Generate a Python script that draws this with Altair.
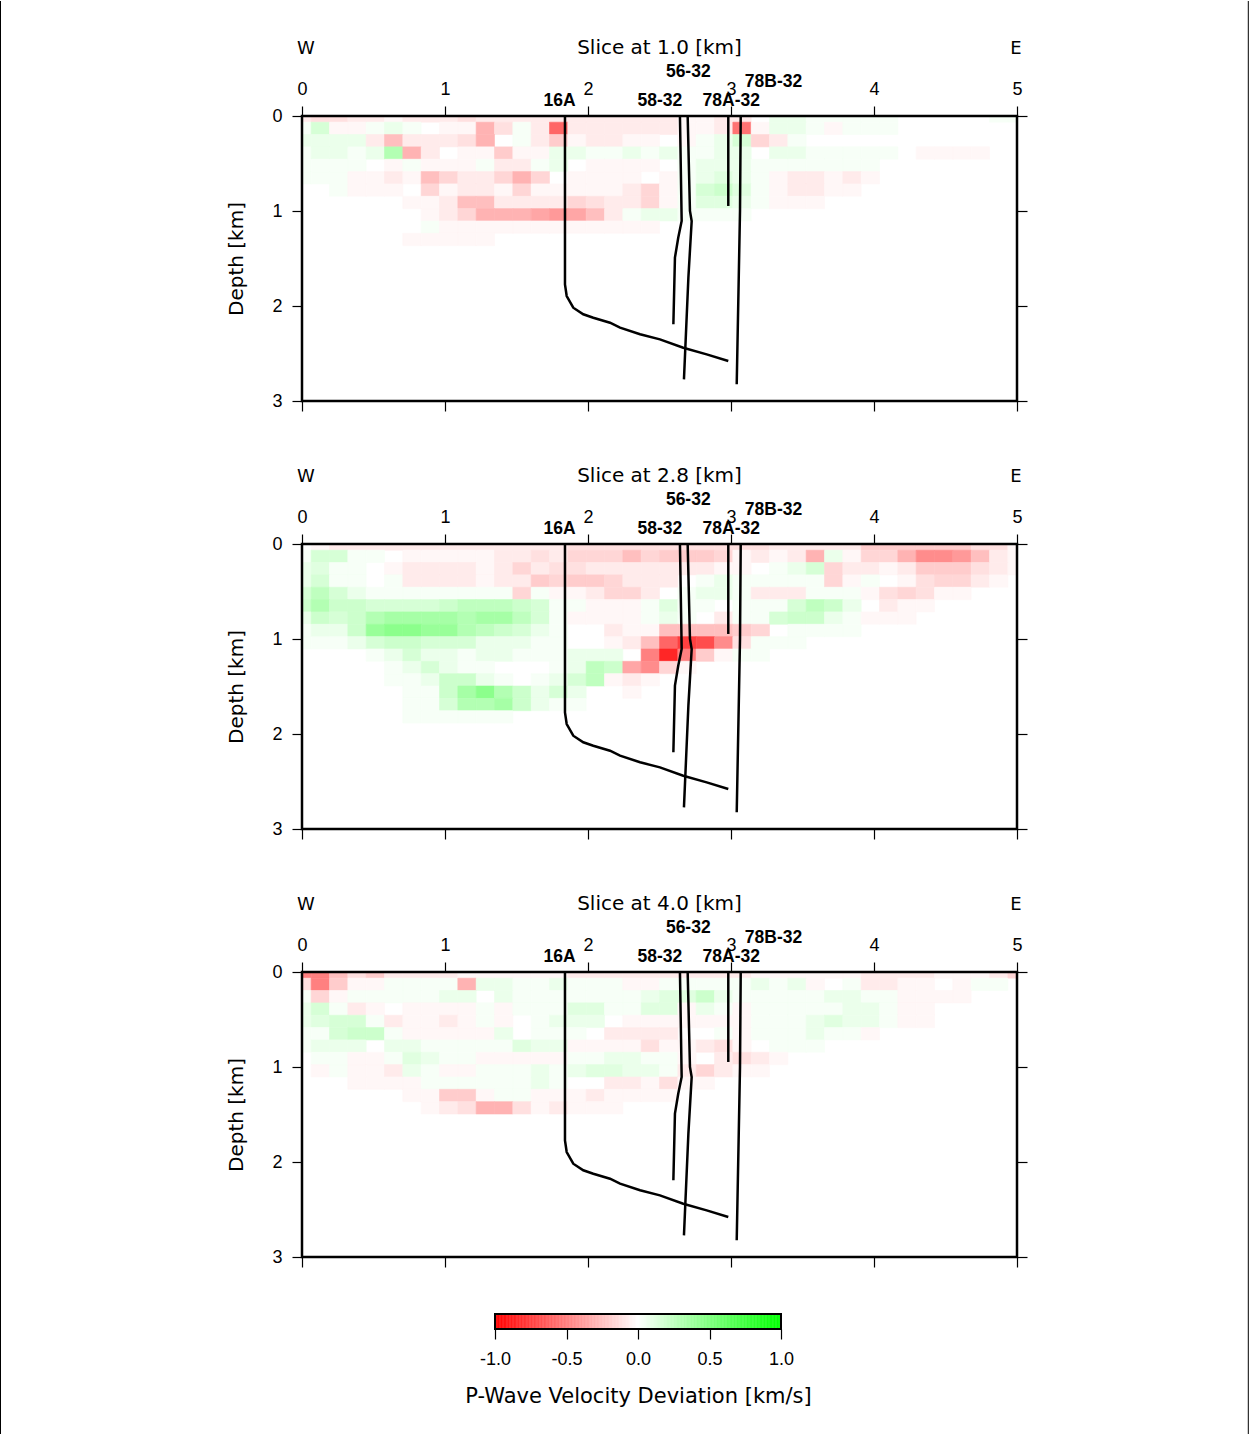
import altair as alt
import numpy as np
import pandas as pd

# ---------------------------------------------------------------------------
# P-wave velocity deviation on the tomography grid, one string per depth node,
# one character per distance node (40 nodes over 0-5 km, 0.13 km depth step).
# '.' = 0, lower case = slower (negative), upper case = faster (positive);
# the letter gives the magnitude from LEVELS.
# ---------------------------------------------------------------------------
LEVELS = [0.03, 0.08, 0.12, 0.16, 0.20, 0.25, 0.30, 0.35,
          0.40, 0.45, 0.50, 0.55, 0.60, 0.70, 0.75, 0.85]

SLICE_1_0 = [
    "bccbbabbbc" "bbbbbbbbbb" "baabb.BBAA" "AAA.....AA",
    "ADaaABA.aa" "gcAbmbbbbb" "baablaBBAa" "AAA.......",
    "BBBBbfbbbc" "g.Abeabbaa" ".aABDdbA.." "..........",
    "ABBABGgb.a" "aeaaBBAABA" "BAABB.BBAA" "AAA.aaaa..",
    "AAAA.aAaaa" "AbbAB.aaaa" ".ABBBAAAAA" "AA........",
    "AAAaabafdb" "bdgd.aaaa." "aABCBAabba" "ba........",
    "..Aaaa.dab" "badaaaaabd" "aADECAabba" "a.........",
    "......aabf" "fbbbbdcbbd" "aACCBAaaa." "..........",
    ".......abd" "ggghihfbAB" "BAAAA....." "..........",
    ".......Aaa" "aaaaaaaaaa" ".........." "..........",
    "......aaaa" "a........." ".........." "..........",
]

SLICE_2_8 = [
    ".abbbbbbbb" "bbbbbccccc" "ccccccbbbb" "beeeeeecca",
    "ADDAA.aaaa" "abbcbdddfd" "eeedababgB" "addgjjifba",
    "BCAA.abbbb" "abdbccbbbb" "bbbaa.ABDd" "bbabeeecba",
    "BDAA.Abbbb" "abbedeedbb" "b.ABAAAAAd" "aA.acddba.",
    "DFDBAAAAAA" "AAdAaabddb" ".ABBAbbbAA" "Aacdcaa...",
    "EGEEDDDDEF" "FFEDAAaaaA" "CAA.AAADFE" "B.baa.....",
    "BEDEGHHHHG" "HHFDAaaaaA" "BA.bAADEEB" "Aaaa......",
    "ABBEIJJIIG" "FEDBA..baa" "ffffed.AAA" "A.........",
    "AAABDEEDDD" "BBBAA..abf" "monjcAAA.." "..........",
    "....ABDBBA" "BBAAABBB.k" "pkeaAA...." "..........",
    ".....ABDBA" "A...ABFEhj" "da........" "..........",
    ".....AABEE" "BA.ABDFaba" ".........." "..........",
    "......AAEH" "JGEBDB..a." ".........." "..........",
    "......AADG" "GHEBAA...." ".........." "..........",
    "......AAAA" "AA........" ".........." "..........",
]

SLICE_4_0 = [
    "kkfcebbbba" "aaaaabbbbb" "bbbbbaaaaa" "abbbbaaabd",
    "ckeaaAAAAg" "BBAABAAAaa" "AAAAABABa." "Abbaa.aAA.",
    "AdaAAAAABB" ".BAAAAAAAB" "CCEBAAAAAB" "BAAaaaa...",
    "BDAba.aaaa" "AaAAACCAAC" "CaBAaAAAAA" "BBAaa.....",
    "BCDDAbaaba" "Aa.ABBB.aa" "aaaaaAAABC" "BBAaa.....",
    "AADEEAaaaa" "aB.AAA.bbb" "b..AaAAABA" "Aa........",
    "ABBB.BBAAA" "AACBBaaaac" "aabca.AAA." "..........",
    ".AAaaACBAA" "aaaaaAABBA" "Aa.bcba..." "..........",
    ".aAaabBAaa" "AAABABCCBB" "Abdbaa...." "..........",
    "...aaaaAAA" "AAABA..bba" "caa......." "..........",
    "......aaee" "aAAaaabaaa" "a........." "..........",
    ".......abc" "ggcabaaa.." ".........." "..........",
]

SLICES = [("Slice at 1.0 [km]", SLICE_1_0),
          ("Slice at 2.8 [km]", SLICE_2_8),
          ("Slice at 4.0 [km]", SLICE_4_0)]

# Well trajectories: distance along the section [km] and depth [km]
WELL_16A_X = [1.839, 1.839, 1.851, 1.897, 1.967, 2.037, 2.154, 2.224, 2.364, 2.503, 2.666, 2.830, 2.981]
WELL_16A_Z = [0.000, 1.772, 1.895, 2.018, 2.087, 2.123, 2.176, 2.228, 2.298, 2.351, 2.439, 2.509, 2.579]
WELL_58_32_X = [2.643, 2.655, 2.631, 2.608, 2.597]
WELL_58_32_Z = [0.000, 1.105, 1.281, 1.491, 2.193]
WELL_56_32_X = [2.697, 2.713, 2.725, 2.702, 2.671]
WELL_56_32_Z = [0.000, 1.000, 1.105, 1.702, 2.772]
WELL_78A_32_X = [2.981, 2.981]
WELL_78A_32_Z = [0.000, 0.947]
WELL_78B_32_X = [3.068, 3.063, 3.040]
WELL_78B_32_Z = [0.000, 1.000, 2.824]

WELLS = [("16A", WELL_16A_X, WELL_16A_Z),
         ("58-32", WELL_58_32_X, WELL_58_32_Z),
         ("56-32", WELL_56_32_X, WELL_56_32_Z),
         ("78A-32", WELL_78A_32_X, WELL_78A_32_Z),
         ("78B-32", WELL_78B_32_X, WELL_78B_32_Z)]

# label placement relative to the well head, in pixels
LABEL_OFFSET = {"16A": (-5.5, -10), "58-32": (-20, -10), "56-32": (0.6, -39),
                "78A-32": (3, -10), "78B-32": (32.8, -29.3)}

X_MAX, Z_MAX = 5.0, 3.0
N_COLS = 40
DX = X_MAX / (N_COLS - 1)
DZ = 0.13

PANEL_W, PANEL_H = 715, 285
TEXT_FONT = "DejaVu Sans"
NUM_FONT = "Liberation Sans"


def decode(ch):
    if ch == ".":
        return 0.0
    mag = LEVELS[ord(ch.lower()) - ord("a")]
    return -mag if ch.islower() else mag


def cell_table(rows):
    recs = []
    for j, row in enumerate(rows):
        for k, ch in enumerate(row):
            v = decode(ch)
            if v == 0.0:
                continue
            xc, zc = k * DX, j * DZ
            recs.append({
                "x0": max(0.0, xc - DX / 2), "x1": min(X_MAX, xc + DX / 2),
                "z0": max(0.0, zc - DZ / 2), "z1": min(Z_MAX, zc + DZ / 2),
                "v": v,
            })
    return pd.DataFrame(recs)


track_rows = []
for name, xs, zs in WELLS:
    for i, (x, z) in enumerate(zip(xs, zs)):
        track_rows.append({"well": name, "seq": i, "x": x, "z": z})
tracks_df = pd.DataFrame(track_rows)
heads_df = tracks_df[tracks_df["seq"] == 0].reset_index(drop=True)

COLOR_SCALE = alt.Scale(domain=[-1, 0, 1], range=["#ff0000", "#ffffff", "#00ff00"],
                        interpolate="rgb")


def x_scale():
    return alt.Scale(domain=[0, X_MAX], nice=False, zero=False)


def z_scale():
    return alt.Scale(domain=[0, Z_MAX], nice=False, zero=False, reverse=True)


def panel(title, rows, with_colorbar=False, with_border=False):
    cells = alt.Chart(cell_table(rows)).mark_rect(strokeWidth=0.6).encode(
        x=alt.X("x0:Q", scale=x_scale(),
                axis=alt.Axis(orient="top", values=[0, 1, 2, 3, 4, 5], format="d",
                              labelPadding=8, labelFlush=False, title=None)),
        x2="x1:Q",
        y=alt.Y("z0:Q", scale=z_scale(),
                axis=alt.Axis(orient="left", values=[0, 1, 2, 3], format="d",
                              labelPadding=10, labelFlush=False,
                              title="Depth [km]", titlePadding=25)),
        y2="z1:Q",
        color=alt.Color("v:Q", scale=COLOR_SCALE, legend=None),
        stroke=alt.Stroke("v:Q", scale=COLOR_SCALE, legend=None),
    )

    tracks = alt.Chart(tracks_df).mark_line(color="black", strokeWidth=2.5).encode(
        x=alt.X("x:Q", scale=x_scale(),
                axis=alt.Axis(orient="bottom", values=[0, 1, 2, 3, 4, 5],
                              labels=False, title=None)),
        y=alt.Y("z:Q", scale=z_scale(),
                axis=alt.Axis(orient="right", values=[0, 1, 2, 3],
                              labels=False, title=None)),
        detail="well:N",
        order="seq:Q",
    )

    # section frame, drawn above the cells
    frame = alt.Chart(pd.DataFrame({"x0": [0.0], "x1": [X_MAX], "z0": [0.0], "z1": [Z_MAX]})).mark_rect(
        fill="transparent", stroke="black", strokeWidth=2.5,
    ).encode(
        x=alt.X("x0:Q", scale=x_scale(), axis=None), x2="x1:Q",
        y=alt.Y("z0:Q", scale=z_scale(), axis=None), y2="z1:Q",
    )

    layers = [cells, tracks, frame]

    for name, _, _ in WELLS:
        dx, dy = LABEL_OFFSET[name]
        layers.append(
            alt.Chart(heads_df[heads_df["well"] == name]).mark_text(
                font=NUM_FONT, fontWeight="bold", fontSize=17.5, color="black",
                align="center", baseline="alphabetic", dx=dx, dy=dy,
            ).encode(
                x=alt.X("x:Q", scale=x_scale(), axis=None),
                y=alt.Y("z:Q", scale=z_scale(), axis=None),
                text="well:N",
            )
        )

    headers = [("W", 0.0, 4, 18), (title, X_MAX / 2, 0, 20), ("E", X_MAX, -1, 18)]
    for txt, xpos, dx, size in headers:
        layers.append(
            alt.Chart(pd.DataFrame({"x": [xpos], "t": [txt]})).mark_text(
                font=TEXT_FONT, fontSize=size, color="black",
                align="center", baseline="alphabetic", dx=dx,
            ).encode(
                x=alt.X("x:Q", scale=x_scale(), axis=None),
                y=alt.value(-62),
                text="t:N",
            )
        )

    if with_border:
        one = pd.DataFrame({"s": [0]})
        for xpix in (-301.5, 946.3):
            layers.append(
                alt.Chart(one).mark_rule(color="black", strokeWidth=1).encode(
                    x=alt.value(xpix), y=alt.value(-115), y2=alt.value(1318),
                )
            )

    if with_colorbar:
        ramp = np.linspace(-1, 1, 201)
        ramp_df = pd.DataFrame({"a": ramp[:-1], "b": ramp[1:],
                                "v": (ramp[:-1] + ramp[1:]) / 2})
        cb_scale = alt.Scale(domain=[-1, 1], range=[193, 479], nice=False, zero=False)
        bar = alt.Chart(ramp_df).mark_rect(strokeWidth=0.5).encode(
            x=alt.X("a:Q", scale=cb_scale,
                    axis=alt.Axis(orient="bottom", offset=72,
                                  values=[-1, -0.5, 0, 0.5, 1],
                                  labelExpr="datum.value < 0 ? '-' + format(-datum.value, '.1f') : format(datum.value, '.1f')",
                                  labelPadding=11, labelFlush=False,
                                  title="P-Wave Velocity Deviation [km/s]",
                                  titleFontSize=21, titlePadding=17)),
            x2="b:Q",
            y=alt.value(342), y2=alt.value(357),
            color=alt.Color("v:Q", scale=COLOR_SCALE, legend=None),
            stroke=alt.Stroke("v:Q", scale=COLOR_SCALE, legend=None),
        )
        bar_frame = alt.Chart(pd.DataFrame({"a": [-1.0], "b": [1.0]})).mark_rect(
            fill="transparent", stroke="black", strokeWidth=2,
        ).encode(
            x=alt.X("a:Q", scale=cb_scale, axis=None),
            x2="b:Q",
            y=alt.value(342), y2=alt.value(357),
        )
        layers += [bar, bar_frame]

    chart = alt.layer(*layers).resolve_axis(x="independent", y="independent")
    if with_colorbar:
        chart = chart.resolve_scale(x="independent")
    return chart.properties(width=PANEL_W, height=PANEL_H)


panels = [
    panel(SLICES[0][0], SLICES[0][1], with_border=True),
    panel(SLICES[1][0], SLICES[1][1]),
    panel(SLICES[2][0], SLICES[2][1], with_colorbar=True),
]

chart = alt.vconcat(*panels, spacing=143, bounds="flush").properties(padding=0)
chart = chart.configure_view(
    stroke="transparent", strokeWidth=0
).configure_axis(
    grid=False, domain=False, ticks=True, tickColor="black", tickWidth=1.2, tickSize=10,
    labelColor="black", labelFont=NUM_FONT, labelFontSize=18,
    titleColor="black", titleFont=TEXT_FONT, titleFontSize=20, titleFontWeight="normal",
)

chart.save("out.html", embed_options={"renderer": "svg", "actions": False})
